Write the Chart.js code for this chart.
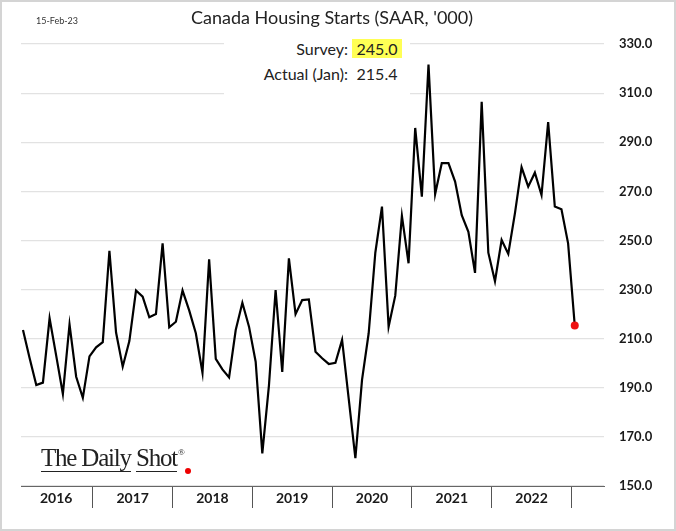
<!DOCTYPE html>
<html lang="en">
<head>
<meta charset="UTF-8">
<title>Canada Housing Starts</title>
<script src="https://cdn.jsdelivr.net/npm/chart.js"></script>
<style>
  body { margin: 0; background: #fff; font-family: Lato, sans-serif; }
  #wrap { position: relative; width: 676px; height: 531px; box-sizing: border-box; border: 2px solid #d4d4d4; }
  canvas { position: absolute; left: -2px; top: -2px; }
  .abs { position: absolute; white-space: nowrap; color: #222; }
  #title { left: 0; width: 660px; text-align: center; top: 4px; font-size: 18px; }
  #date { left: 34px; top: 13px; font-size: 9px; color: #333; }
  #notes { left: 222px; top: 33px; width: 186px; height: 66px; background: #fff; font-size: 16px; }
  #notes .row { position: absolute; right: 8px; }
  #notes .lbl { display: inline-block; text-align: right; }
  #notes .val { display: inline-block; width: 50px; text-align: center; margin-left: 4px; }
  #notes .hl { background: #ffff55; }
  #logo { left: 39px; top: 442px; font-family: "Liberation Serif", serif; font-size: 25px; letter-spacing: -1.2px; color: #222; }
  #logo span.u { border-bottom: 1.5px solid #222; }
  #logo sup { font-size: 9px; vertical-align: 11px; margin-left: 1px; }
  #dot { left: 183px; top: 466px; width: 6px; height: 6px; border-radius: 3px; background: #e00; }
</style>
</head>
<body>
<div id="wrap">
  <canvas id="chart" width="676" height="531"></canvas>
  <div class="abs" id="title">Canada Housing Starts (SAAR, '000)</div>
  <div class="abs" id="date">15-Feb-23</div>
  <div class="abs" id="notes">
    <div class="row" style="top:4px"><span class="lbl">Survey:</span><span class="val hl">245.0</span></div>
    <div class="row" style="top:29px"><span class="lbl">Actual (Jan):</span><span class="val">215.4</span></div>
  </div>
  <div class="abs" id="logo"><span class="u">The Daily</span> <span class="u">Shot</span><sup>®</sup></div>
  <div class="abs" id="dot"></div>
</div>

<script>
// monthly housing starts, Feb 2016 - Jan 2023 (SAAR, thousands)
const months = [];
for (let y = 2016; y <= 2023; y++) {
  for (let m = 1; m <= 12; m++) {
    if ((y === 2016 && m < 2) || (y === 2023 && m > 1)) continue;
    months.push(y + '-' + String(m).padStart(2, '0'));
  }
}

const starts = [
  213.5, 202.0, 191.1, 192.1, 218.3, 203.0, 187.5, 215.8, 194.5, 185.9, 202.8,
  206.5, 208.6, 245.8, 212.5, 198.6, 209.0, 229.6, 227.1, 218.7, 220.0, 248.8, 214.6,
  216.9, 229.6, 221.5, 212.2, 196.1, 242.3, 201.8, 197.5, 194.2, 213.5, 224.6, 214.9,
  200.6, 163.3, 191.0, 229.8, 196.5, 242.7, 220.0, 225.7, 226.0, 204.7, 202.0, 199.7,
  200.2, 209.5, 185.5, 161.3, 193.2, 212.2, 245.0, 263.8, 214.9, 227.5, 260.0, 240.7,
  295.8, 267.8, 321.6, 268.9, 281.5, 281.5, 274.0, 260.3, 253.5, 236.8, 306.5, 245.0,
  233.4, 250.2, 244.5, 261.0, 279.8, 271.9, 277.6, 268.5, 298.2, 263.8, 262.7, 248.8,
  215.4
];

const years = ['2016', '2017', '2018', '2019', '2020', '2021', '2022'];
const yTicks = [150, 170, 190, 210, 230, 250, 270, 290, 310, 330];

// year bands on the month index axis (separator sits between Dec and Jan)
const yearStart = years.map(y => Math.max(months.indexOf(y + '-01'), 0) - 0.5);
const seps = years.map(y => months.indexOf((+y + 1) + '-01') - 0.5);
const centers = years.map((y, i) => (yearStart[i] + seps[i]) / 2);

const points = starts.map((v, i) => ({ x: i, y: v }));

new Chart(document.getElementById('chart'), {
  type: 'line',
  data: {
    datasets: [{
      data: points,
      borderColor: '#000',
      borderWidth: 2.2,
      tension: 0,
      pointRadius: ctx => (ctx.dataIndex === starts.length - 1 ? 4 : 0),
      pointBackgroundColor: '#ee1111',
      pointBorderWidth: 0
    }]
  },
  options: {
    responsive: false,
    animation: false,
    layout: { padding: { left: 21, right: 20, top: 44, bottom: 21 } },
    plugins: { legend: { display: false }, tooltip: { enabled: false } },
    scales: {
      x: {
        type: 'linear',
        min: -0.3,
        max: 87.4,
        afterBuildTicks: scale => {
          scale.ticks = seps.concat(centers).sort((a, b) => a - b).map(v => ({ value: v }));
        },
        afterFit: scale => { scale.height = 24; },
        ticks: {
          autoSkip: false,
          maxRotation: 0,
          padding: -18,
          color: '#1a1a1a',
          font: { family: 'Lato', size: 14, weight: 'bold' },
          callback: v => {
            const i = centers.indexOf(v);
            return i >= 0 ? years[i] : '';
          }
        },
        grid: {
          drawOnChartArea: false,
          drawTicks: true,
          tickLength: 22,
          tickColor: ctx => (ctx.tick && centers.indexOf(ctx.tick.value) >= 0 ? 'rgba(0,0,0,0)' : '#555'),
          tickWidth: 1
        },
        border: { display: true, color: '#666', width: 1 }
      },
      y: {
        position: 'right',
        min: 150,
        max: 330,
        afterBuildTicks: scale => {
          scale.ticks = yTicks.map(v => ({ value: v }));
        },
        afterFit: scale => { scale.width = 52; },
        ticks: {
          padding: 15,
          color: '#1a1a1a',
          font: { family: 'Lato', size: 13, weight: 'bold' },
          callback: v => v.toFixed(1)
        },
        grid: { color: '#e2e2e2', lineWidth: 1.2, drawTicks: false },
        border: { display: false }
      }
    }
  }
});
</script>
</body>
</html>
